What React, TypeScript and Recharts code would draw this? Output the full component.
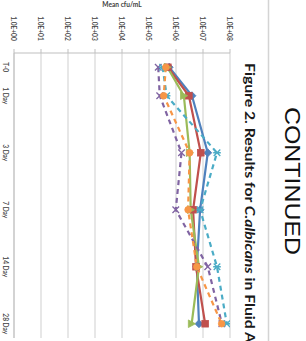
import React from 'react';
import { LineChart, Line, XAxis, YAxis, CartesianGrid } from 'recharts';

// Time points of the study and the slots of the category axis (blank columns between later points)
const timepoints = ['T-0', '1 Day', '3 Day', '7 Day', '14 Day', '28 Day'];
const axisSlots = ['T-0', '1 Day', '', '3 Day', '', '7 Day', '', '14 Day', '', '28 Day'];

// Value axis (log scale) ticks and their labels
const valueTicks = [1, 1e1, 1e2, 1e3, 1e4, 1e5, 1e6, 1e7, 1e8];
const valueTickLabels = ['1.0E+00', '1.0E+01', '1.0E+02', '1.0E+03', '1.0E+04', '1.0E+05', '1.0E+06', '1.0E+07', '1.0E+08'];

// Mean cfu/mL per series, one value per time point
const seriesBlue = [5.6e5, 3.9e6, 1.5e7, 7.8e6, 5.9e6, 7.1e6];
const seriesRed = [5.0e5, 3.0e6, 8.3e6, 4.3e6, 5.5e6, 1.2e7];
const seriesGreen = [4.8e5, 1.95e6, 3.2e6, 3.5e6, 7.1e6, 3.8e6];
const seriesPurple = [2.2e5, 2.5e5, 1.6e6, 9.8e5, 1.5e7, 5.0e7];
const seriesAqua = [3.2e5, 4.5e5, 3.3e7, 7.8e6, 3.3e7, 7.6e7];
const seriesOrange = [4.2e5, 3.5e5, 3.2e6, 2.8e6, 5.9e6, 4.9e7];

const seriesDefs = [
  { key: 's1', values: seriesBlue, color: '#4F81BD', dashed: false, marker: 'diamond' },
  { key: 's2', values: seriesRed, color: '#C0504D', dashed: false, marker: 'square' },
  { key: 's3', values: seriesGreen, color: '#9BBB59', dashed: false, marker: 'triangle' },
  { key: 's4', values: seriesPurple, color: '#8064A2', dashed: true, marker: 'x' },
  { key: 's5', values: seriesAqua, color: '#4BACC6', dashed: true, marker: 'star' },
  { key: 's6', values: seriesOrange, color: '#F79646', dashed: true, marker: 'circle' },
];

const data = axisSlots.map((slot, i) => {
  const row: any = { slot: slot || `gap${i}` };
  const t = timepoints.indexOf(slot);
  seriesDefs.forEach((s) => {
    row[s.key] = t >= 0 ? s.values[t] : null;
  });
  return row;
});

const makeDot = (marker: string, color: string) => (props: any) => {
  const { cx, cy, index, value } = props;
  const k = `${marker}-${index}`;
  if (cx == null || cy == null || value == null || (Array.isArray(value) && value[1] == null)) {
    return <g key={k} />;
  }
  const r = 3.3;
  switch (marker) {
    case 'diamond':
      return (
        <path key={k} d={`M${cx},${cy - r - 0.7}L${cx + r + 0.7},${cy}L${cx},${cy + r + 0.7}L${cx - r - 0.7},${cy}Z`} fill={color} stroke={color} strokeWidth={0.8} />
      );
    case 'square':
      return <rect key={k} x={cx - r} y={cy - r} width={r * 2} height={r * 2} fill={color} stroke={color} strokeWidth={0.8} />;
    case 'triangle':
      return (
        <path key={k} d={`M${cx + r + 0.5},${cy}L${cx - r},${cy - r - 0.5}L${cx - r},${cy + r + 0.5}Z`} fill={color} stroke={color} strokeWidth={0.8} />
      );
    case 'x':
      return (
        <path key={k} d={`M${cx - r},${cy - r}L${cx + r},${cy + r}M${cx - r},${cy + r}L${cx + r},${cy - r}`} stroke={color} strokeWidth={1.3} fill="none" />
      );
    case 'star':
      return (
        <path key={k} d={`M${cx - r},${cy - r}L${cx + r},${cy + r}M${cx - r},${cy + r}L${cx + r},${cy - r}M${cx - r - 0.5},${cy}L${cx + r + 0.5},${cy}`} stroke={color} strokeWidth={1.3} fill="none" />
      );
    default:
      return <circle key={k} cx={cx} cy={cy} r={r} fill={color} stroke={color} strokeWidth={0.8} />;
  }
};

const ValueTick = (props: any) => {
  const { x, payload } = props;
  const idx = valueTicks.indexOf(payload.value);
  const label = idx >= 0 ? valueTickLabels[idx] : String(payload.value);
  return (
    <text
      transform={`translate(${x},28.5) rotate(90)`}
      textAnchor="middle"
      dominantBaseline="central"
      fontSize={6.6}
      fontWeight={600}
      fontFamily="Lato, 'Open Sans', sans-serif"
      fill="#404040"
    >
      {label}
    </text>
  );
};

const CategoryTick = (props: any) => {
  const { y, payload } = props;
  const label = timepoints.includes(payload.value) ? payload.value : '';
  if (!label) return <g />;
  return (
    <text
      transform={`translate(5.5,${y}) rotate(90)`}
      textAnchor="middle"
      dominantBaseline="central"
      fontSize={6.6}
      fontWeight={600}
      fontFamily="Lato, 'Open Sans', sans-serif"
      fill="#404040"
    >
      {label}
    </text>
  );
};

export default function App() {
  return (
    <div style={{ position: 'absolute', top: 0, left: 0, width: 306, height: 341, background: '#ffffff', overflow: 'hidden' }}>
      <LineChart
        width={306}
        height={341}
        data={data}
        layout="vertical"
        margin={{ top: 0, right: 76, bottom: 3, left: 0 }}
      >
        <CartesianGrid horizontal={false} vertical={true} stroke="#cfcfcf" strokeWidth={1} />
        <XAxis
          type="number"
          scale="log"
          domain={[1, 1e8]}
          ticks={valueTicks}
          allowDataOverflow
          orientation="top"
          height={53}
          interval={0}
          tick={<ValueTick />}
          tickSize={4}
          axisLine={{ stroke: '#bfbfbf' }}
          tickLine={{ stroke: '#bfbfbf' }}
          label={{
            value: 'Mean cfu/mL',
            position: 'insideTop',
            offset: 2,
            fontSize: 6.6,
            fontWeight: 'bold',
            fill: '#404040',
            fontFamily: "Lato, 'Open Sans', sans-serif",
          }}
        />
        <YAxis
          type="category"
          scale="band"
          dataKey="slot"
          width={14}
          interval={0}
          tick={<CategoryTick />}
          tickLine={false}
          axisLine={{ stroke: '#bfbfbf' }}
        />
        {seriesDefs.map((s) => (
          <Line
            key={s.key}
            dataKey={s.key}
            stroke={s.color}
            strokeWidth={2.2}
            strokeDasharray={s.dashed ? '5 4' : undefined}
            connectNulls
            dot={makeDot(s.marker, s.color)}
            activeDot={false}
            isAnimationActive={false}
          />
        ))}
      </LineChart>
      <svg width={306} height={341} style={{ position: 'absolute', top: 0, left: 0, pointerEvents: 'none' }}>
        <line x1={268.5} y1={0} x2={268.5} y2={341} stroke="#d4d4d4" strokeWidth={1.5} />
        <text
          transform="translate(245,63) rotate(90)"
          fontSize={12.5}
          fontWeight="bold"
          fontFamily="Lato, 'Open Sans', sans-serif"
          fill="#1a1a1a"
          textLength={280}
          lengthAdjust="spacingAndGlyphs"
        >
          Figure 2.  Results for <tspan fontStyle="italic">C.albicans</tspan> in Fluid A
        </text>
        <text
          transform="translate(285,107) rotate(90)"
          fontSize={22}
          fontFamily="'Liberation Sans', Arial, sans-serif"
          fill="#111111"
          textLength={148}
          lengthAdjust="spacingAndGlyphs"
        >
          CONTINUED
        </text>
      </svg>
    </div>
  );
}
